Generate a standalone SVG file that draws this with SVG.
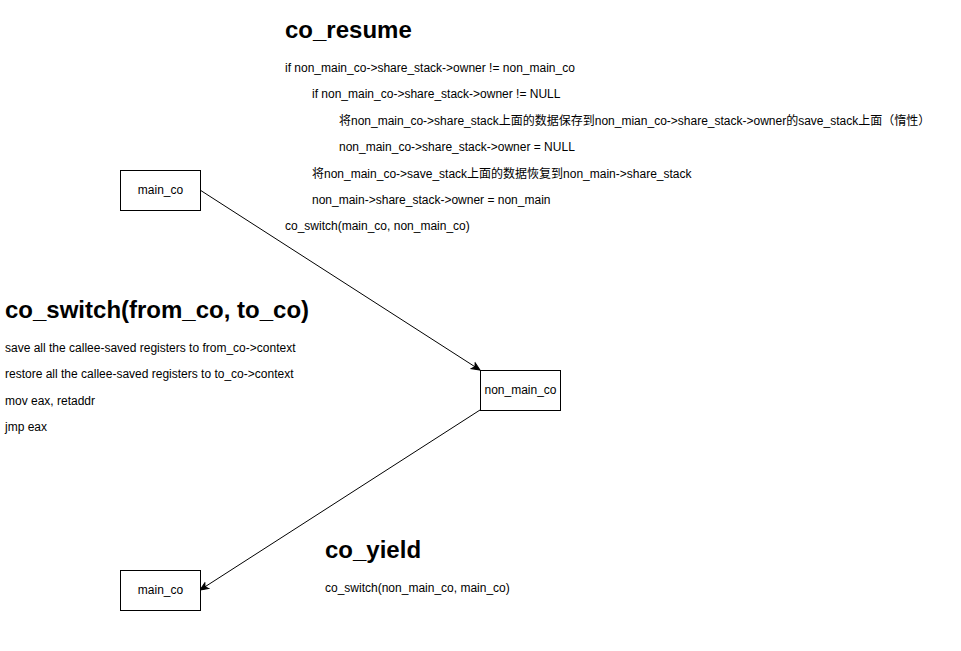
<svg xmlns="http://www.w3.org/2000/svg" width="961" height="651" viewBox="0 0 961 651">
<defs>
<style>
.t{font-family:"Liberation Sans","Noto Sans CJK SC",sans-serif;font-size:12px;fill:#000}
.h{font-family:"Liberation Sans",sans-serif;font-size:24px;font-weight:bold;fill:#000}
.n{fill:#fff;stroke:#000;stroke-width:1}
.e{fill:none;stroke:#000;stroke-width:1}
</style>
<marker id="a" markerWidth="10" markerHeight="10" refX="9" refY="5" orient="auto" markerUnits="userSpaceOnUse">
<path d="M1,1.5 L9,5 L1,8.5 L3,5 Z" fill="#000" stroke="#000" stroke-width="1"/>
</marker>
</defs>
<rect width="961" height="651" fill="#fff"/>
<g id="connectors">
<path class="e" d="M200,190 L480,370" marker-end="url(#a)"/>
<path class="e" d="M480,410 L200,590" marker-end="url(#a)"/>
</g>
<g id="main_co_top"><rect class="n" x="120.5" y="170.5" width="80" height="40"/><text class="t" x="160.5" y="194" text-anchor="middle">main_co</text></g>
<g id="non_main_co"><rect class="n" x="480.5" y="370.5" width="80" height="40"/><text class="t" x="520.5" y="394" text-anchor="middle">non_main_co</text></g>
<g id="main_co_bottom"><rect class="n" x="120.5" y="570.5" width="80" height="40"/><text class="t" x="160.5" y="594" text-anchor="middle">main_co</text></g>
<g id="co_resume">
<text class="h" x="285" y="38">co_resume</text>
<text class="t" x="285" y="72">if non_main_co-&gt;share_stack-&gt;owner != non_main_co</text>
<text class="t" x="312" y="98">if non_main_co-&gt;share_stack-&gt;owner != NULL</text>
<text class="t" x="339" y="125">将non_main_co-&gt;share_stack上面的数据保存到non_mian_co-&gt;share_stack-&gt;owner的save_stack上面（惰性）</text>
<text class="t" x="339" y="151">non_main_co-&gt;share_stack-&gt;owner = NULL</text>
<text class="t" x="312" y="178">将non_main_co-&gt;save_stack上面的数据恢复到non_main-&gt;share_stack</text>
<text class="t" x="312" y="204">non_main-&gt;share_stack-&gt;owner = non_main</text>
<text class="t" x="285" y="230">co_switch(main_co, non_main_co)</text>
</g>
<g id="co_switch">
<text class="h" x="5" y="318">co_switch(from_co, to_co)</text>
<text class="t" x="5" y="352">save all the callee-saved registers to from_co-&gt;context</text>
<text class="t" x="5" y="378">restore all the callee-saved registers to to_co-&gt;context</text>
<text class="t" x="5" y="405">mov eax, retaddr</text>
<text class="t" x="5" y="431">jmp eax</text>
</g>
<g id="co_yield">
<text class="h" x="325" y="558">co_yield</text>
<text class="t" x="325" y="592">co_switch(non_main_co, main_co)</text>
</g>
</svg>
